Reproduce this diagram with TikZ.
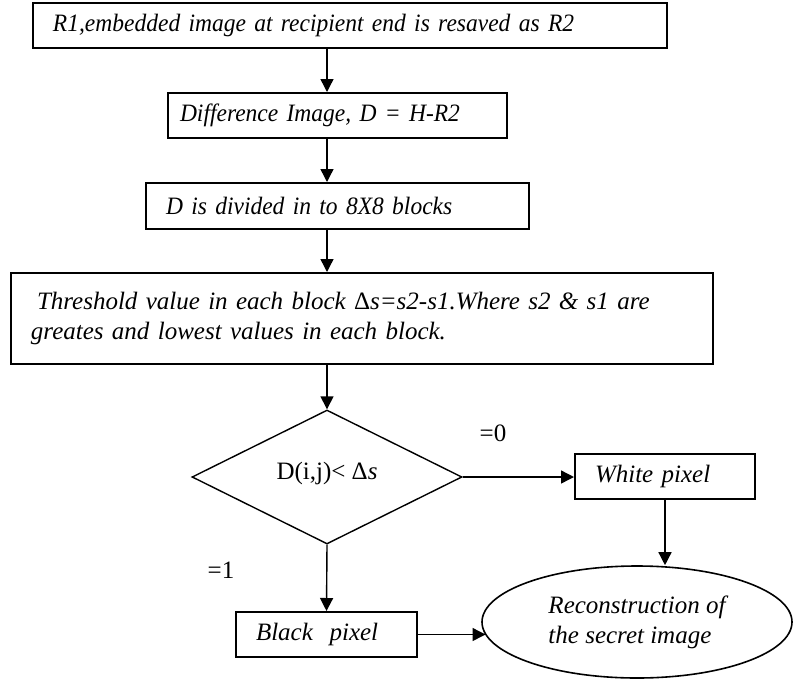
\documentclass[tikz,border=0pt]{standalone}
\usepackage{fontspec}
\setmainfont{Liberation Serif}
\newfontfamily\condensedserif{Liberation Serif}[FakeStretch=0.94]
\usepackage{tikz}
\usetikzlibrary{positioning,arrows.meta,shapes.geometric}
\newcommand{\flowfont}{\fontsize{12.5}{15}\selectfont}
\tikzset{
  flowarrow/.style={-{Triangle[length=6.5pt,width=6.5pt]}, line width=0.7pt},
  procbox/.style={draw, line width=1pt, minimum height=22.5pt, inner xsep=10pt, inner ysep=0pt, align=left, font=\flowfont\itshape},
  narrowbox/.style={procbox, font=\flowfont\condensedserif\itshape},
  decision/.style={draw, diamond, line width=0.7pt, minimum width=135pt, minimum height=67pt, inner sep=0pt},
  endbox/.style={draw, ellipse, line width=0.8pt, minimum width=155pt, minimum height=56pt, inner sep=0pt, align=left, font=\flowfont\itshape},
  branchlabel/.style={inner sep=0pt}
}

\begin{document}
\begin{tikzpicture}[x=0.5pt, y=-0.5pt, every node/.style={font=\flowfont}]
      \useasboundingbox (0,0) rectangle (793,681);
      % main column
      \coordinate (spine) at (327,0);
      \node[narrowbox, text width=297pt] (resave) at (350,25.5) {\raisebox{-1.5pt}{R1,embedded image at recipient end is resaved as R2}};
      \node[narrowbox, text width=157.5pt, inner xsep=6pt] (diff) at (337.5,115.5) {Difference Image, D = H-R2};
      \node[narrowbox, text width=171.5pt, minimum height=23pt] (divide) at (337.5,206) {D is divided in to 8X8 blocks};
      \node[procbox, text width=331pt, minimum height=45.5pt] (thresh) at (362,318.5)
        {\hspace*{3pt}Threshold value in each block {\upshape Δ}s=s2-s1.Where s2 \& s1 are\\greates and lowest values in each block.\\[4pt]};
      \node[decision] (test) at (327,477) {\raisebox{6pt}{D(i,j)<~Δ\textit{s}}};
      % outcomes
      \node[procbox, text width=70pt] (white) at (665,476.5) {White pixel};
      \node[procbox, text width=70.5pt] (black) at (326.5,634.5) {Black\ \ pixel};
      \node[endbox] (recon) at (637,622) {Reconstruction of\\the secret image};
      \node[branchlabel] (zero) at (493,433) {=0};
      \node[branchlabel] (one) at (221,570) {=1};
      \draw[flowarrow] (resave.south -| spine) -- (diff.north -| spine);
      \draw[flowarrow] (diff.south -| spine) -- (divide.north -| spine);
      \draw[flowarrow] (divide.south -| spine) -- (thresh.north -| spine);
      \draw[flowarrow] (thresh.south -| spine) -- (test.north);
      \draw[flowarrow] (test.east) -- (white.west |- test.east);
      \draw[flowarrow] (test.south) -- (black.north);
      \draw[flowarrow] (white.south) -- (recon.north -| white.south);
      \draw[flowarrow] (black.east) -- (black.east -| recon.185);
    \end{tikzpicture}
\end{document}
